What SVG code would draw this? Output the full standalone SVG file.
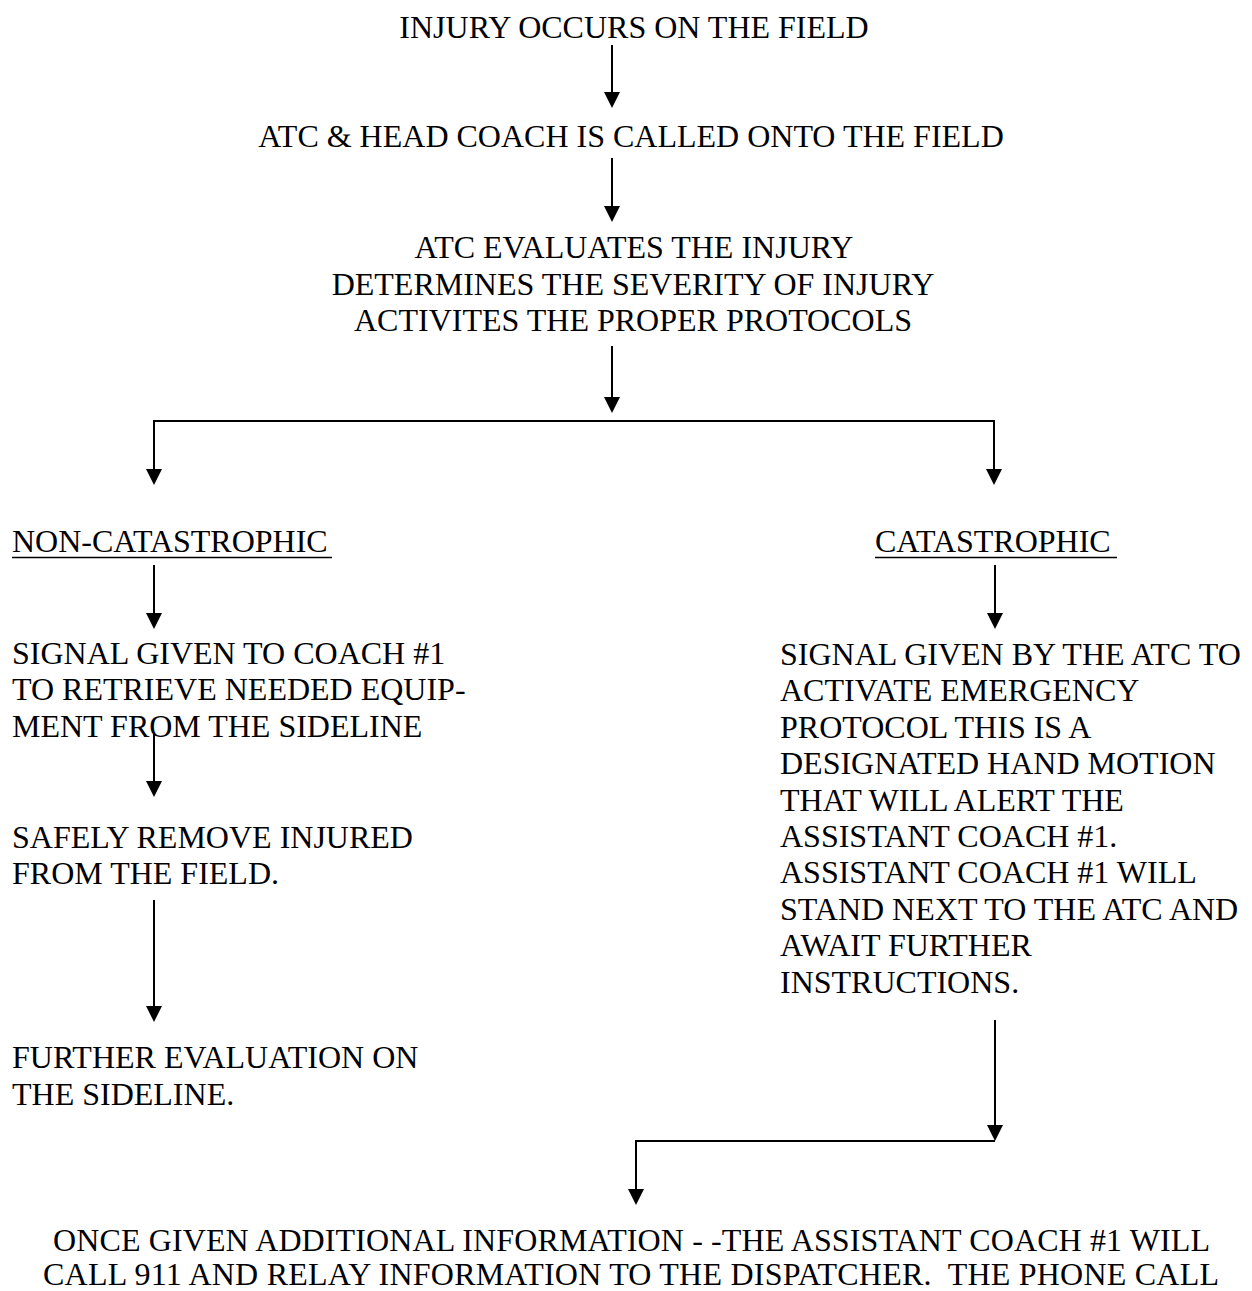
<svg xmlns="http://www.w3.org/2000/svg" width="1252" height="1291" viewBox="0 0 1252 1291">
<style>
text{font-family:"Liberation Serif","Times New Roman",serif;font-size:32px;fill:#000;white-space:pre}
.c{text-anchor:middle}
.ln{stroke:#000;stroke-width:2;fill:none}
.ul{stroke:#000;stroke-width:1.6}
</style>
<defs>
<marker id="ah" viewBox="0 0 16 16" refX="0" refY="8" markerWidth="16" markerHeight="16" markerUnits="userSpaceOnUse" orient="auto">
<path d="M0,0 L16,8 L0,16 z" fill="#000"/>
</marker>
</defs>
<rect width="1252" height="1291" fill="#fff"/>
<g id="n1"><text class="c" x="634" y="38">INJURY OCCURS ON THE FIELD</text></g>
<g id="n2"><text class="c" x="631" y="147">ATC &amp; HEAD COACH IS CALLED ONTO THE FIELD</text></g>
<g id="n3">
<text class="c" x="634" y="258">ATC EVALUATES THE INJURY</text>
<text class="c" x="633" y="295">DETERMINES THE SEVERITY OF INJURY</text>
<text class="c" x="633" y="331">ACTIVITES THE PROPER PROTOCOLS</text>
</g>
<g id="n4"><text x="12" y="552">NON-CATASTROPHIC</text><line class="ul" x1="12" y1="557.5" x2="332" y2="557.5"/></g>
<g id="n5"><text x="875" y="552">CATASTROPHIC</text><line class="ul" x1="875" y1="557.5" x2="1117" y2="557.5"/></g>
<g id="n6">
<text x="12" y="664">SIGNAL GIVEN TO COACH #1</text>
<text x="12" y="700">TO RETRIEVE NEEDED EQUIP-</text>
<text x="12" y="737">MENT FROM THE SIDELINE</text>
</g>
<g id="n7">
<text x="12" y="848">SAFELY REMOVE INJURED</text>
<text x="12" y="884">FROM THE FIELD.</text>
</g>
<g id="n8">
<text x="12" y="1068">FURTHER EVALUATION ON</text>
<text x="12" y="1105">THE SIDELINE.</text>
</g>
<g id="n9">
<text x="780" y="665">SIGNAL GIVEN BY THE ATC TO</text>
<text x="780" y="701">ACTIVATE EMERGENCY</text>
<text x="780" y="738">PROTOCOL THIS IS A</text>
<text x="780" y="774">DESIGNATED HAND MOTION</text>
<text x="780" y="811">THAT WILL ALERT THE</text>
<text x="780" y="847">ASSISTANT COACH #1.</text>
<text x="780" y="883">ASSISTANT COACH #1 WILL</text>
<text x="780" y="920">STAND NEXT TO THE ATC AND</text>
<text x="780" y="956">AWAIT FURTHER</text>
<text x="780" y="993">INSTRUCTIONS.</text>
</g>
<g id="n10">
<text x="53" y="1251" textLength="1157" lengthAdjust="spacing">ONCE GIVEN ADDITIONAL INFORMATION - -THE ASSISTANT COACH #1 WILL</text>
<text x="43" y="1285" textLength="1176" lengthAdjust="spacing">CALL 911 AND RELAY INFORMATION TO THE DISPATCHER.  THE PHONE CALL</text>
</g>
<g id="connectors">
<line class="ln" x1="612" y1="45" x2="612" y2="92" marker-end="url(#ah)"/>
<line class="ln" x1="612" y1="158" x2="612" y2="206" marker-end="url(#ah)"/>
<line class="ln" x1="612" y1="346" x2="612" y2="397" marker-end="url(#ah)"/>
<polyline class="ln" points="154,469 154,421 994,421 994,469"/>
<line class="ln" x1="154" y1="421" x2="154" y2="469" marker-end="url(#ah)"/>
<line class="ln" x1="994" y1="421" x2="994" y2="469" marker-end="url(#ah)"/>
<line class="ln" x1="154" y1="565" x2="154" y2="613" marker-end="url(#ah)"/>
<line class="ln" x1="995" y1="565" x2="995" y2="613" marker-end="url(#ah)"/>
<line class="ln" x1="154" y1="733" x2="154" y2="781" marker-end="url(#ah)"/>
<line class="ln" x1="154" y1="900" x2="154" y2="1006" marker-end="url(#ah)"/>
<line class="ln" x1="995" y1="1020" x2="995" y2="1125" marker-end="url(#ah)"/>
<polyline class="ln" points="995,1141 636,1141 636,1189"/>
<line class="ln" x1="636" y1="1141" x2="636" y2="1189" marker-end="url(#ah)"/>
</g>
</svg>
